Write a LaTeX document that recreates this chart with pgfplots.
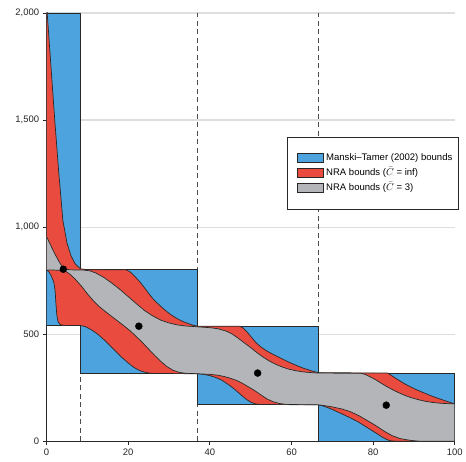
\documentclass[border=0pt]{standalone}
\usepackage{pgfplots}
\pgfplotsset{compat=1.18}
\usepackage{pgfplotstable}
\usepackage{fontspec}
\setmainfont{Liberation Sans}
\definecolor{mtblue}{RGB}{76,163,221}
\definecolor{nrared}{RGB}{233,76,62}
\definecolor{nragray}{RGB}{180,181,185}
\definecolor{edge}{RGB}{40,40,40}

% Manski-Tamer blocks
\pgfplotstableread{
x y
0 540
8.3 540
8.3 2000
0 2000
0 540
}\blockA
\pgfplotstableread{
x y
8.3 315
37 315
37 800
8.3 800
8.3 315
}\blockB
\pgfplotstableread{
x y
37 170
66.5 170
66.5 537
37 537
37 170
}\blockC
\pgfplotstableread{
x y
66.5 0
100 0
100 318
66.5 318
66.5 0
}\blockD

% NRA bounds, C = inf : upper curve forward, lower curve backward
\pgfplotstableread{
x y
0 2060
0.15 2000
1 1770
2 1500
3 1250
4 1030
5 925
6 865
7 828
8.3 805
10 801
19.5 800
20.5 790
21.5 772
22.8 745
24 716
25 690
26.2 662
27.5 638
29 612
30.5 590
32 572
33.5 558
35 547
36 541
37 537
47.3 537
48.2 528
49.2 508
50.2 485
51.3 460
52.5 440
53.8 423
55.3 407
57 391
59 372
61 355
63 340
65 328
66.5 320
83.5 318
84.3 309
85.3 296
86.5 282
87.7 268
89 255
90.5 241
92 229
93.5 217
95 206
96.8 194
98.5 183
100 174
100 0
85.5 0
84.5 1
83.5 6
82.3 18
80.6 39
78.5 64
76.5 88
74.5 108
72.4 127
70 148
68 163
66.5 170
52.5 171
51.2 174
50 182
48.8 197
47.4 220
46 243
44.5 265
43 284
41.5 297
40 306
38.5 312
37 315
26 316
24.5 320
23 328
21.5 343
20 365
18.5 390
17 418
15.5 447
14 475
12.5 500
11 520
9.5 535
8.3 540
4 541
3.3 545
2.8 558
2.5 590
2.3 640
2.1 700
1.8 740
1.2 770
0.6 790
0 800
0 2060
}\nrainf

% NRA bounds, C = 3 : upper curve forward, lower curve backward
\pgfplotstableread{
x y
0 955
1 915
2 876
3 840
4 810
5 802
6 800
9 799
10.5 796
12 786
14 765
16 738
18 708
20 675
22 642
24 610
26 585
28 565
30 552
32 543
34 538
37 534
40 530
42 525
44 514
45.5 500
47 480
48.5 458
50 437
51.5 414
53 393
54.5 375
56 360
57.5 348
59 338
61 329
63 323
65 320
66.5 318
77 317
78 312
79 303
80.5 288
82 270
83.5 253
85 238
86.5 224
88 212
89.5 202
91 194
92.8 186
94.5 181
96.5 177
98.5 175
100 174
100 0
91.2 0
90 2
88.7 5
86.6 12
84.6 26
82.6 48
80.6 73
78.5 97
76.5 119
74.5 137
72.4 150
70 160
68 166
66.5 170
60 171
58.5 172
57 176
55.5 184
54 197
52.5 216
51 236
49.5 253
48 270
46.5 284
45 294
43.5 302
42 308
40 312
37 315
34 317
32.5 321
31 331
29.5 348
28 372
26.5 400
25 430
23.5 460
22 488
20.5 515
19 538
17.5 560
16 582
14.5 604
13 627
11.5 655
10 688
8.5 725
7 757
6 775
5 790
4 797
2 799
0 800
0 955
}\nrathree

\pgfplotstableread{
x y
4.1 803
22.6 537
51.7 318
83.2 168
}\points

\begin{document}
\begin{tikzpicture}
\begin{axis}[
  width=409.3bp, height=429.3bp, scale only axis,
  xmin=0, xmax=100, ymin=0, ymax=2000,
  axis lines*=left,
  axis line style={edge, line width=0.8bp},
  tick align=outside, major tick length=4bp,
  tick style={edge, line width=0.8bp},
  xtick={0,20,...,100}, ytick={0,500,...,2000},
  ymajorgrids, grid style={black!13, line width=1.1bp},
  /pgf/number format/assume math mode=true,
  /pgf/number format/1000 sep={,},
  tick label style={font=\fontsize{9.5}{11}\selectfont, text=black!85},
  legend style={at={(0.5895,0.711)}, anchor=north west, draw=edge,
    line width=0.7bp, font=\fontsize{9.6}{10}\selectfont,
    inner xsep=4bp, inner ysep=13.5bp, row sep=0bp,
    nodes={text height=7bp, text depth=2bp, inner ysep=3bp},
    cells={anchor=west}},
  legend image code/.code={\path (0bp,0bp); \draw[#1, line width=0.7bp] (5bp,-4.5bp) rectangle (32bp,4.5bp);},
]
\addplot[forget plot, dashed, dash pattern=on 5bp off 3.5bp, black!70, line width=1.1bp] coordinates {(8.3,0) (8.3,2000)};
\addplot[forget plot, dashed, dash pattern=on 5bp off 3.5bp, black!70, line width=1.1bp] coordinates {(37,0) (37,2000)};
\addplot[forget plot, dashed, dash pattern=on 5bp off 3.5bp, black!70, line width=1.1bp] coordinates {(66.5,0) (66.5,2000)};

\addplot[forget plot, fill=mtblue, draw=edge, line width=0.8bp, line join=miter] table {\blockA};
\addplot[forget plot, fill=mtblue, draw=edge, line width=0.8bp, line join=miter] table {\blockB};
\addplot[forget plot, fill=mtblue, draw=edge, line width=0.8bp, line join=miter] table {\blockC};
\addplot[forget plot, fill=mtblue, draw=edge, line width=0.8bp, line join=miter] table {\blockD};

\addplot[forget plot, fill=nrared, draw=edge, line width=0.7bp] table {\nrainf};
\addplot[forget plot, fill=nragray, draw=edge, line width=0.7bp] table {\nrathree};

\addplot[forget plot, only marks, mark=*, mark size=3.5bp, black] table {\points};

\addlegendimage{fill=mtblue, draw=edge}
\addlegendentry{Manski–Tamer (2002) bounds}
\addlegendimage{fill=nrared, draw=edge}
\addlegendentry{NRA bounds ($\bar{C}$ = inf)}
\addlegendimage{fill=nragray, draw=edge}
\addlegendentry{NRA bounds ($\bar{C}$ = 3)}

\coordinate (sw) at (rel axis cs:0,0);
\coordinate (ne) at (rel axis cs:1,1);
\end{axis}
\path ([shift={(-46.7bp,-20.7bp)}]sw) rectangle ([shift={(10bp,13bp)}]ne);
\end{tikzpicture}
\end{document}
